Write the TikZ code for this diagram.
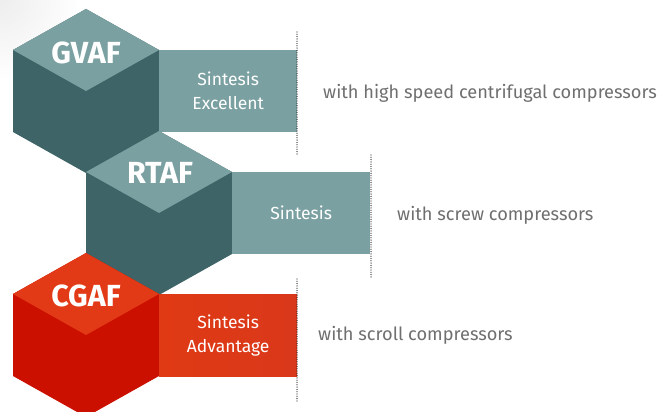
\documentclass[tikz,border=0pt]{standalone}
\usepackage{fontspec}
\setmainfont{Fira Sans}
\definecolor{tealtop}{HTML}{7BA0A1}
\definecolor{tealside}{HTML}{3E6467}
\definecolor{redtop}{HTML}{E23A16}
\definecolor{redside}{HTML}{CC1000}
\definecolor{redbox}{HTML}{E03A15}
\definecolor{redboxr}{HTML}{D9381A}
\definecolor{greytxt}{HTML}{6F6F6F}
\definecolor{dotc}{HTML}{2E2E2E}
\tikzset{
  pics/hexcube/.style 2 args={code={
    \fill[#2] (0,0) -- (73,41) -- (73,123) -- (0,164) -- (-73,123) -- (-73,41) -- cycle;
    \fill[#1] (0,0) -- (73,41) -- (0,82) -- (-73,41) -- cycle;
  }},
  cubelabel/.style={text=white, inner sep=0pt, font=\fontsize{30.5}{32}\selectfont\bfseries},
  infobox/.style={anchor=north west, inner sep=0pt, minimum width=138pt, minimum height=82pt,
    text=white, align=center, font=\fontsize{17.5}{24}\selectfont},
  desc/.style={anchor=base west, inner sep=0pt, text=greytxt, font=\fontsize{18.2}{20}\selectfont},
  dotline/.style={dotc, line width=1.3pt, dash pattern=on 0pt off 2.3pt, line cap=round}
}
\begin{document}
\begin{tikzpicture}[x=1pt,y=-1pt]
\useasboundingbox (0,0) rectangle (661,412);
\clip (0,0) rectangle (661,412);
\fill[white] (0,0) rectangle (661,412);
\shade[inner color=black!7, outer color=white] (0,0) circle (80);
% cubes
\pic at (86,9) {hexcube={tealtop}{tealside}};
\pic at (159,131) {hexcube={tealtop}{tealside}};
\pic at (86,253) {hexcube={redtop}{redside}};
% boxes
\node[infobox, fill=tealtop] (gvafbox) at (159,50) {Sintesis\\Excellent};
\node[infobox, fill=tealtop] (rtafbox) at (232,172) {Sintesis};
\node[infobox, left color=redbox, right color=redboxr] (cgafbox) at (159,294) {Sintesis\\Advantage};
% cube labels
\node[cubelabel] (gvaf) at (86,52.5) {GVAF};
\node[cubelabel] (rtaf) at (160,173) {RTAF};
\node[cubelabel] (cgaf) at (86,296) {CGAF};
% dotted separators
\coordinate (d1a) at (297,32);  \coordinate (d1b) at (297,156);
\coordinate (d2a) at (371,155); \coordinate (d2b) at (371,279);
\coordinate (d3a) at (297,279); \coordinate (d3b) at (297,402);
\draw[dotline] (d1a) -- (d1b);
\draw[dotline] (d2a) -- (d2b);
\draw[dotline] (d3a) -- (d3b);
% descriptions
\node[desc] (gvafdesc) at (323,98) {with high speed centrifugal compressors};
\node[desc] (rtafdesc) at (397,220) {with screw compressors};
\node[desc] (cgafdesc) at (318,340) {with scroll compressors};
\end{tikzpicture}
\end{document}
